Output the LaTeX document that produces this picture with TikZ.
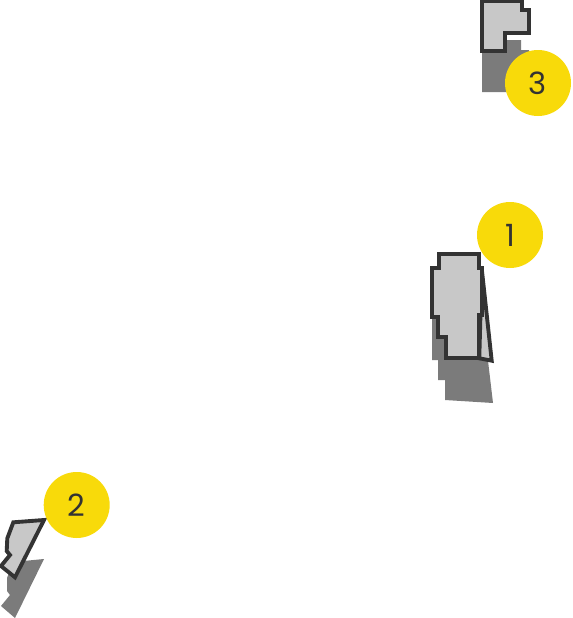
\documentclass[tikz,border=0pt]{standalone}
\usepackage{fontspec}
\setmainfont{Poppins}
\usetikzlibrary{positioning}
\definecolor{badgeyellow}{HTML}{F8DA0A}
\definecolor{roofgray}{HTML}{C8C8C8}
\definecolor{edgegray}{HTML}{333333}
\definecolor{shadowgray}{HTML}{7B7B7B}
\tikzset{
  badge/.style={circle, fill=badgeyellow, minimum size=49.5pt, inner sep=0pt,
    text=edgegray, font=\fontsize{23}{25}\selectfont},
  roof/.style={fill=roofgray, draw=edgegray, line width=2.9pt, line join=miter},
  shadow/.style={fill=shadowgray}
}

\begin{document}
\begin{tikzpicture}[x=0.75pt, y=-0.75pt]
  \useasboundingbox (0,0) rectangle (572,618);
  % shadows (cast downwards)
  \fill[shadow] (432,317) -- (432,360) -- (438,360) -- (438,380) -- (445,380) -- (445,400)
    -- (493,403) -- (482,310) -- (482,300) -- (439,300) -- cycle;
  \fill[shadow] (482,40) -- (521,40) -- (521,50) -- (529,50) -- (529,92) -- (482,92) -- cycle;
  \fill[shadow] (13,562) -- (44,559) -- (15,618) -- (1,606) -- (10,595) -- (7,591) -- (7,578) -- cycle;
  % building 1
  \draw[roof] (481.7,268.3) -- (491.7,360.7) -- (479.3,358.3) -- cycle;
  \draw[roof] (439.3,254) -- (479.3,254) -- (479.3,268.3) -- (481.7,268.3) -- (481.7,315)
    -- (479.3,315) -- (479.3,358.3) -- (446,358.3) -- (446,337.3) -- (438.3,337.3)
    -- (438.3,316.7) -- (432.3,316.7) -- (432.3,268.3) -- (439.3,268.3) -- cycle;
  % building 2
  \draw[roof] (13.3,522.3) -- (44,520) -- (15,577.3) -- (1,566) -- (10,555) -- (6.7,551)
    -- (7.3,538.3) -- cycle;
  % building 3
  \draw[roof] (482.3,0.7) -- (521.7,0.7) -- (521.7,10) -- (529.3,10) -- (529.3,33.3)
    -- (505,33.3) -- (505,50.7) -- (482.3,50.7) -- cycle;
  % numbered markers
  \node[badge] (n1) at (510,235) {1};
  \node[badge] (n2) at (76.7,505) {2};
  \node[badge] (n3) at (538,83) {3};
\end{tikzpicture}
\end{document}
